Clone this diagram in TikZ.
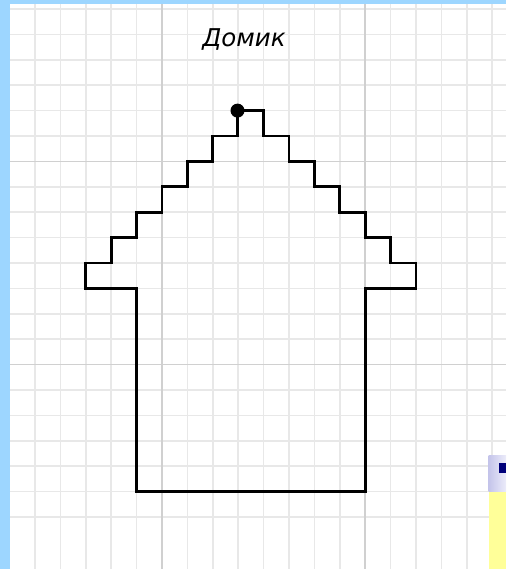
\documentclass[tikz,border=0pt]{standalone}
\usepackage{fontspec}
\newfontfamily\titlefont{DejaVu Sans}
\definecolor{bordblue}{HTML}{9DD6FF}
\definecolor{gridlight}{HTML}{E8E8E8}
\definecolor{gridheavy}{HTML}{D0D0D0}
\definecolor{noteyellow}{HTML}{FFFF99}
\definecolor{lavL}{HTML}{C4C4EA}
\definecolor{lavR}{HTML}{ECECFA}
\definecolor{navy}{HTML}{00007A}
\tikzset{
  gridline/.style={draw=gridlight, line width=1.5pt},
  gridheavyline/.style={draw=gridheavy, line width=1.5pt},
  house/.style={draw=black, line width=2.8pt, line join=miter},
  startdot/.style={circle, fill=black, inner sep=0pt, minimum size=14pt},
}
\begin{document}
\begin{tikzpicture}[x=1pt,y=-1pt]
\useasboundingbox (0,0) rectangle (506,569);
\fill[white] (0,0) rectangle (506,569);
% grid
\foreach \k in {0,...,20}{
  \pgfmathsetmacro{\gx}{9.6+25.4*\k}
  \pgfmathsetmacro{\gy}{9+25.4*\k}
  \draw[gridline] (\gx,0) -- (\gx,569);
  \draw[gridline] (0,\gy) -- (506,\gy);
}
\foreach \k in {6,14}{
  \pgfmathsetmacro{\gx}{9.6+25.4*\k}
  \pgfmathsetmacro{\gy}{9+25.4*\k}
  \draw[gridheavyline] (\gx,0) -- (\gx,569);
  \draw[gridheavyline] (0,\gy) -- (506,\gy);
}
% borders
\fill[bordblue] (0,0) rectangle (506,4.5);
\fill[bordblue] (0,0) rectangle (9.5,569);
% title
\node[font=\titlefont\itshape\fontsize{24.5}{28}\selectfont, anchor=base, inner sep=0pt] (title) at (244,47) {Домик};
% house
\draw[house] (237.5,110.6) -- (263.6,110.6) -- (263.6,136) -- (289,136) -- (289,161.4)
  -- (314.4,161.4) -- (314.4,186.8) -- (339.8,186.8) -- (339.8,212.2) -- (365.2,212.2)
  -- (365.2,237.6) -- (390.6,237.6) -- (390.6,263) -- (416,263) -- (416,288.4)
  -- (365.2,288.4) -- (365.2,491.6) -- (136.6,491.6) -- (136.6,288.4) -- (85.8,288.4)
  -- (85.8,263) -- (111.2,263) -- (111.2,237.6) -- (136.6,237.6) -- (136.6,212.2)
  -- (162,212.2) -- (162,186.8) -- (187.4,186.8) -- (187.4,161.4) -- (212.8,161.4)
  -- (212.8,136) -- (237.5,136) -- cycle;
\node[startdot] (start) at (237.5,110.6) {};
% note fragment bottom right
\fill[noteyellow] (488.5,491.6) rectangle (506,569);
\shade[left color=lavL, right color=lavR] (488.5,455) rectangle (506,491.6);
\fill[navy] (498.5,463) rectangle (506,473);
\end{tikzpicture}
\end{document}
